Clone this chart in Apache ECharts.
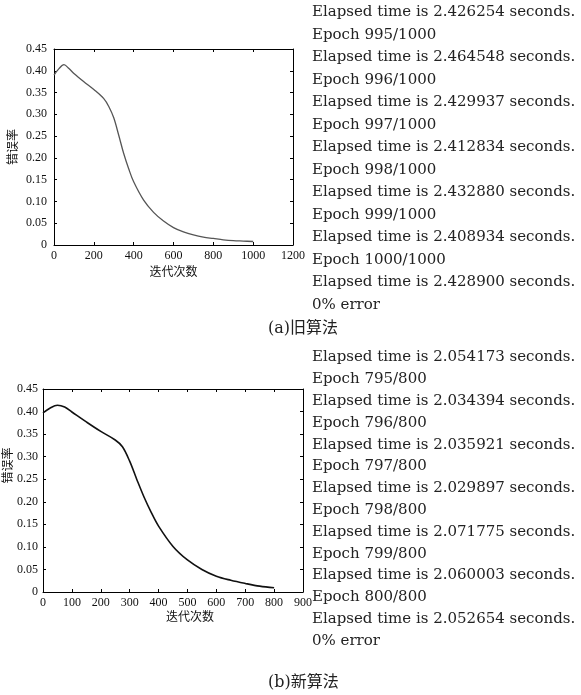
<!DOCTYPE html>
<html><head><meta charset="utf-8">
<script src="https://cdn.jsdelivr.net/npm/echarts@6/dist/echarts.min.js"></script>
<style>html,body{margin:0;padding:0;background:#fff}#c{width:581px;height:695px}</style>
</head><body><div id="c"></div>
<script>
// Old algorithm (a)
const oldIter = [0,25,50,75,100,150,200,250,275,300,325,350,375,400,450,500,550,600,650,700,750,800,850,900,950,1000];
const oldErr  = [0.390,0.405,0.414,0.405,0.394,0.375,0.357,0.336,0.318,0.292,0.252,0.210,0.175,0.145,0.103,0.075,0.055,0.040,0.030,0.023,0.018,0.015,0.012,0.010,0.009,0.008];
// New algorithm (b)
const newIter = [0,25,50,75,100,150,200,250,275,300,325,350,375,400,450,500,550,600,650,700,750,800];
const newErr  = [0.397,0.408,0.414,0.410,0.399,0.377,0.356,0.337,0.322,0.290,0.249,0.210,0.176,0.146,0.101,0.071,0.050,0.035,0.026,0.019,0.013,0.0095];

const oldLog = ["Elapsed time is 2.426254 seconds.","Epoch 995/1000","Elapsed time is 2.464548 seconds.","Epoch 996/1000","Elapsed time is 2.429937 seconds.","Epoch 997/1000","Elapsed time is 2.412834 seconds.","Epoch 998/1000","Elapsed time is 2.432880 seconds.","Epoch 999/1000","Elapsed time is 2.408934 seconds.","Epoch 1000/1000","Elapsed time is 2.428900 seconds.","0% error"];
const newLog = ["Elapsed time is 2.054173 seconds.","Epoch 795/800","Elapsed time is 2.034394 seconds.","Epoch 796/800","Elapsed time is 2.035921 seconds.","Epoch 797/800","Elapsed time is 2.029897 seconds.","Epoch 798/800","Elapsed time is 2.071775 seconds.","Epoch 799/800","Elapsed time is 2.060003 seconds.","Epoch 800/800","Elapsed time is 2.052654 seconds.","0% error"];
const captions = ["(a)旧算法","(b)新算法"];
const xName = "迭代次数", yName = "错误率";

const serif = "'Liberation Serif','Times New Roman',serif";
const cjk = "'Noto Sans CJK SC',sans-serif";
const chart = echarts.init(document.getElementById('c'), null, {renderer:'canvas'});

function yFmt(v){ return v === 0 ? '0' : v.toFixed(2); }
function xFmt(v){ return String(v); }
function mainX(grid, max, interval, gap, shift){
  return {type:'value', gridIndex:grid, min:0, max:max, interval:interval, position:'bottom',
    name:xName, nameLocation:'middle', nameGap:gap,
    nameTextStyle:{fontFamily:cjk, fontSize:12, color:'#111', padding:[0,0,0,shift]},
    axisLine:{show:true, onZero:false, lineStyle:{color:'#000', width:1}},
    axisTick:{show:true, inside:true, length:3, lineStyle:{color:'#000'}},
    axisLabel:{fontFamily:serif, fontSize:12, color:'#111', margin:5, formatter:xFmt},
    splitLine:{show:false}};
}
function sideX(grid, max, interval){
  return {type:'value', gridIndex:grid, min:0, max:max, interval:interval, position:'top',
    axisLine:{show:true, onZero:false, lineStyle:{color:'#000', width:1}},
    axisTick:{show:true, inside:true, length:3, lineStyle:{color:'#000'}},
    axisLabel:{show:false}, splitLine:{show:false}};
}
function mainY(grid, gap, margin, shift){
  return {type:'value', gridIndex:grid, min:0, max:0.45, interval:0.05, position:'left',
    name:yName, nameLocation:'middle', nameGap:gap,
    nameTextStyle:{fontFamily:cjk, fontSize:12, color:'#111', padding:[0,0,0,shift]},
    axisLine:{show:true, onZero:false, lineStyle:{color:'#000', width:1}},
    axisTick:{show:true, inside:true, length:3, lineStyle:{color:'#000'}},
    axisLabel:{fontFamily:serif, fontSize:12, color:'#111', margin:margin, formatter:yFmt},
    splitLine:{show:false}};
}
function sideY(grid){
  return {type:'value', gridIndex:grid, min:0, max:0.45, interval:0.05, position:'right',
    axisLine:{show:true, onZero:false, lineStyle:{color:'#000', width:1}},
    axisTick:{show:true, inside:true, length:3, lineStyle:{color:'#000'}},
    axisLabel:{show:false}, splitLine:{show:false}};
}

const graphics = [];
oldLog.forEach((t,i)=>graphics.push({type:'text', left:312, top:5 + i*22.5,
  style:{text:t, fontFamily:"'DejaVu Serif',serif", fontSize:15, fill:'#222'}}));
newLog.forEach((t,i)=>graphics.push({type:'text', left:312, top:350 + i*21.8,
  style:{text:t, fontFamily:"'DejaVu Serif',serif", fontSize:15, fill:'#222'}}));
graphics.push({type:'text', left:268, top:321, style:{text:captions[0], fontFamily:"'DejaVu Serif','Noto Sans CJK SC',serif", fontSize:16, fill:'#222'}});
graphics.push({type:'text', left:268, top:675, style:{text:captions[1], fontFamily:"'DejaVu Serif','Noto Sans CJK SC',serif", fontSize:16, fill:'#222'}});

chart.setOption({
  animation:false,
  backgroundColor:'#fff',
  grid:[
    {left:54, top:49, width:239, height:196},
    {left:43, top:389, width:260, height:203}
  ],
  xAxis:[mainX(0,1200,200,20,0), sideX(0,1200,200), mainX(1,900,100,18,34), sideX(1,900,100)],
  yAxis:[mainY(0,36,7,0), sideY(0), mainY(1,30,5,50), sideY(1)],
  series:[
    {name:'旧算法', type:'line', xAxisIndex:0, yAxisIndex:0, showSymbol:false, smooth:0.35,
     data:oldIter.map((x,i)=>[x, oldErr[i]]), lineStyle:{color:'#555', width:1.3}},
    {name:'新算法', type:'line', xAxisIndex:2, yAxisIndex:2, showSymbol:false, smooth:0.35,
     data:newIter.map((x,i)=>[x, newErr[i]]), lineStyle:{color:'#111', width:1.6}}
  ],
  graphic:graphics
});
</script></body></html>
